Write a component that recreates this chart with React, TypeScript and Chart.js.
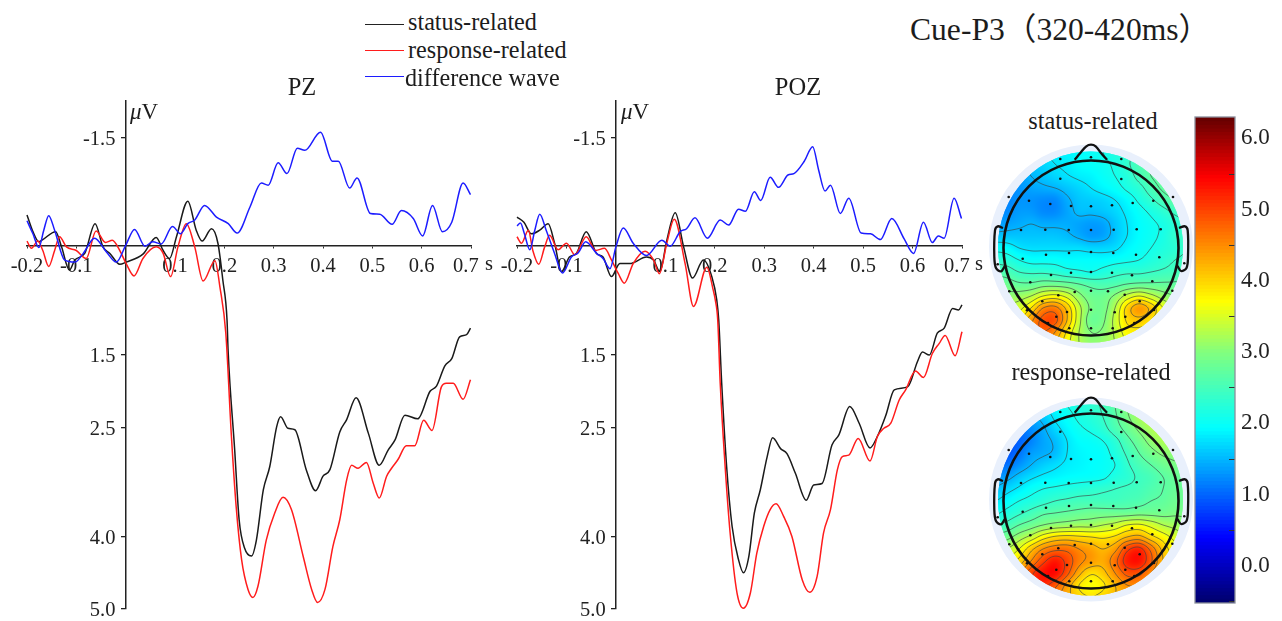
import React, { useEffect, useRef } from "react";
import { Chart, registerables } from "chart.js";
Chart.register(...registerables);

const SERIF = '"Liberation Serif", "Noto Sans CJK SC", serif';

const xTickValues = [-0.2, -0.1, 0.1, 0.2, 0.3, 0.4, 0.5, 0.6, 0.7];
const yTickValues = [-1.5, 1.5, 2.5, 4.0, 5.0];
const colorbarTicks = [0, 1, 2, 3, 4, 5, 6];

const pzDiffT = [-0.2,-0.188,-0.176,-0.166,-0.156,-0.144,-0.124,-0.103,-0.087,-0.063,-0.039,-0.019,0,0.018,0.039,0.055,0.072,0.095,0.111,0.126,0.14,0.16,0.184,0.208,0.226,0.252,0.275,0.289,0.309,0.327,0.348,0.363,0.395,0.419,0.431,0.454,0.469,0.496,0.515,0.54,0.559,0.583,0.602,0.622,0.642,0.661,0.684,0.699];
const pzDiffV = [-0.35,-0.17,0.02,-0.22,-0.42,-0.22,0.19,0.22,0.11,-0.11,0.08,0.22,-0.01,-0.23,0,-0.06,-0.03,-0.27,-0.17,-0.31,-0.36,-0.56,-0.4,-0.31,-0.18,-0.54,-0.87,-0.84,-1.15,-1,-1.35,-1.32,-1.57,-1.17,-1.17,-0.8,-0.94,-0.45,-0.44,-0.3,-0.49,-0.38,-0.14,-0.56,-0.2,-0.33,-0.87,-0.71];
const pzStatusT = [-0.2,-0.188,-0.176,-0.168,-0.142,-0.13,-0.114,-0.103,-0.083,-0.062,-0.046,-0.032,-0.012,0.001,0.035,0.062,0.076,0.089,0.103,0.126,0.143,0.155,0.174,0.187,0.197,0.2055,0.2076,0.221,0.23,0.241,0.255,0.265,0.279,0.292,0.306,0.314,0.329,0.343,0.366,0.385,0.4,0.414,0.434,0.448,0.467,0.492,0.514,0.532,0.546,0.566,0.592,0.617,0.63,0.647,0.661,0.677,0.691,0.699];
const pzStatusV = [-0.43,-0.2,-0.06,-0.09,-0.2,0.01,0.33,0.19,0.1,-0.31,0.01,0.1,0.25,0.22,0.11,-0.12,0.06,0.17,-0.13,-0.62,-0.22,-0.07,-0.24,-0.04,0.47,1.02,1.43,2.81,3.77,4.16,4.27,4.05,3.36,3.04,2.49,2.35,2.51,2.53,3.08,3.37,3.17,3.08,2.56,2.39,2.09,2.58,3.02,2.81,2.67,2.33,2.38,2,1.93,1.65,1.55,1.25,1.22,1.13];
const pzRespT = [-0.2,-0.191,-0.178,-0.168,-0.156,-0.144,-0.134,-0.12,-0.1,-0.08,-0.06,-0.041,-0.027,-0.012,0.001,0.017,0.035,0.062,0.076,0.091,0.106,0.123,0.14,0.157,0.181,0.191,0.203,0.214,0.224,0.235,0.248,0.258,0.268,0.285,0.302,0.319,0.336,0.36,0.377,0.389,0.404,0.42,0.434,0.448,0.458,0.471,0.488,0.502,0.514,0.529,0.539,0.552,0.569,0.586,0.604,0.621,0.64,0.65,0.664,0.684,0.699];
const pzRespV = [-0.07,0.03,-0.07,0.06,0.28,0.06,-0.13,0.01,0.06,0.17,-0.21,-0.05,-0.08,0.06,0.24,0.41,0.17,0.01,0.1,0.42,0.01,-0.31,0.01,0.48,0.2,0.56,1.2,2.58,3.59,4.32,4.73,4.84,4.69,4.05,3.68,3.46,3.63,4.28,4.73,4.91,4.73,4.14,3.77,3.22,3.02,3.06,2.98,3.27,3.47,3.17,3.06,2.94,2.75,2.75,2.4,2.54,1.94,1.89,1.89,2.11,1.84];

const pozDiffT = [-0.2,-0.193,-0.185,-0.174,-0.164,-0.154,-0.141,-0.124,-0.108,-0.09,-0.076,-0.061,-0.039,-0.026,-0.012,0,0.015,0.035,0.062,0.093,0.11,0.13,0.143,0.16,0.185,0.211,0.228,0.248,0.262,0.28,0.293,0.312,0.329,0.348,0.36,0.381,0.398,0.41,0.423,0.434,0.454,0.471,0.496,0.515,0.535,0.558,0.583,0.602,0.622,0.64,0.652,0.664,0.684,0.699];
const pozDiffV = [-0.28,-0.32,-0.17,0.05,-0.22,-0.44,-0.22,0.1,0.37,0.15,0.09,-0.06,0.1,0.17,0.31,0.01,-0.25,-0.04,0.13,-0.08,0,-0.2,-0.24,-0.39,-0.11,-0.36,-0.29,-0.51,-0.48,-0.75,-0.63,-0.95,-0.81,-0.98,-1,-1.17,-1.37,-1.05,-0.76,-0.84,-0.45,-0.66,-0.18,-0.17,-0.09,-0.38,-0.1,0.1,-0.33,-0.05,-0.14,-0.11,-0.66,-0.38];
const pozStatusT = [-0.2,-0.186,-0.171,-0.154,-0.137,-0.124,-0.11,-0.094,-0.08,-0.06,-0.039,-0.026,-0.009,0.008,0.028,0.062,0.076,0.089,0.103,0.12,0.137,0.155,0.177,0.194,0.204,0.208,0.214,0.224,0.235,0.248,0.258,0.269,0.28,0.292,0.306,0.317,0.333,0.346,0.363,0.385,0.4,0.417,0.437,0.451,0.473,0.492,0.514,0.529,0.546,0.563,0.59,0.61,0.62,0.634,0.65,0.664,0.681,0.693,0.7];
const pozStatusV = [-0.4,-0.33,-0.17,-0.22,-0.31,-0.04,0.35,0.15,0.1,-0.2,0.1,0.15,0.42,0.24,0.24,0.15,0.19,0.35,-0.08,-0.46,0.01,0.44,0.19,0.42,0.74,1.02,1.89,3.04,3.86,4.32,4.5,4.27,3.68,3.36,2.9,2.64,2.79,2.86,3.13,3.5,3.29,3.27,2.74,2.6,2.21,2.44,2.78,2.62,2.33,1.98,1.94,1.59,1.46,1.5,1.2,1.13,0.86,0.88,0.81];
const pozRespT = [-0.2,-0.191,-0.177,-0.168,-0.156,-0.144,-0.134,-0.117,-0.1,-0.083,-0.06,-0.041,-0.023,-0.009,0.005,0.017,0.035,0.059,0.076,0.088,0.103,0.118,0.14,0.157,0.184,0.197,0.201,0.206,0.211,0.221,0.231,0.245,0.258,0.272,0.285,0.299,0.312,0.324,0.339,0.356,0.377,0.392,0.407,0.42,0.434,0.448,0.458,0.471,0.49,0.514,0.529,0.542,0.556,0.573,0.586,0.606,0.622,0.64,0.654,0.666,0.686,0.7];
const pozRespV = [-0.13,-0.04,-0.22,0.06,0.25,0.01,-0.15,0.05,-0.04,0.12,-0.13,0.06,0.03,0.19,0.38,0.51,0.24,0.07,0.19,0.38,-0.04,-0.37,0.24,0.83,0.29,0.61,0.74,1.02,1.89,3.04,3.95,4.78,4.99,4.78,4.23,3.86,3.63,3.55,3.72,4,4.6,4.77,4.55,3.95,3.63,3.08,2.9,2.88,2.65,2.96,2.62,2.51,2.44,2.12,1.98,1.72,1.81,1.48,1.34,1.23,1.51,1.18];

const statusGrid = [
[1.5,1.5,1.6,1.7,1.8,1.85,1.9,1.95,2.0,2.1,2.2,2.3,2.5,2.7,2.8,2.9,2.9],
[1.4,1.4,1.5,1.6,1.7,1.8,1.85,1.95,2.0,2.05,2.15,2.35,2.55,2.7,2.8,2.9,2.9],
[1.25,1.25,1.35,1.5,1.6,1.7,1.78,1.85,1.9,2.0,2.1,2.25,2.5,2.7,2.8,2.85,2.9],
[1.2,1.2,1.3,1.4,1.45,1.5,1.6,1.7,1.8,1.9,2.0,2.15,2.3,2.55,2.75,2.85,2.85],
[1.2,1.2,1.3,1.3,1.25,1.25,1.45,1.6,1.65,1.7,1.8,1.95,2.15,2.35,2.55,2.7,2.7],
[1.25,1.25,1.35,1.35,1.25,1.25,1.4,1.55,1.55,1.6,1.7,1.85,2.0,2.15,2.3,2.45,2.5],
[1.35,1.4,1.45,1.5,1.45,1.45,1.45,1.4,1.35,1.4,1.6,1.8,1.95,2.05,2.15,2.3,2.4],
[1.6,1.6,1.6,1.6,1.6,1.6,1.55,1.45,1.35,1.4,1.6,1.8,1.95,2.05,2.15,2.35,2.4],
[2.0,1.95,1.8,1.75,1.75,1.75,1.75,1.75,1.7,1.7,1.75,1.9,2.0,2.1,2.2,2.3,2.4],
[2.3,2.25,2.1,2.0,2.0,2.0,1.95,1.95,1.95,1.95,2.0,2.05,2.1,2.2,2.3,2.4,2.45],
[2.6,2.55,2.4,2.35,2.35,2.3,2.2,2.15,2.1,2.2,2.3,2.35,2.35,2.4,2.45,2.5,2.55],
[2.9,2.85,2.75,2.75,2.85,2.85,2.8,2.7,2.6,2.55,2.6,2.7,2.75,2.75,2.75,2.75,2.8],
[3.1,3.1,3.15,3.3,3.6,3.7,3.5,3.1,2.85,2.85,3.05,3.4,3.6,3.4,3.15,3.0,3.0],
[3.3,3.4,3.5,3.9,4.5,4.6,4.1,3.4,2.95,2.9,3.3,4.0,4.4,4.1,3.6,3.3,3.2],
[3.5,3.6,3.8,4.4,4.9,4.9,4.2,3.4,2.85,2.95,3.4,3.95,4.1,3.9,3.6,3.4,3.3],
[3.6,3.7,4.0,4.5,4.8,4.5,3.85,3.3,3.0,3.05,3.35,3.75,3.8,3.7,3.5,3.4,3.3],
[3.6,3.7,4.0,4.4,4.5,4.2,3.7,3.3,3.1,3.15,3.3,3.6,3.7,3.6,3.5,3.4,3.3],
];
const responseGrid = [
[1.2,1.3,1.4,1.55,1.75,1.95,2.1,2.2,2.3,2.45,2.7,3.0,3.2,3.35,3.4,3.4,3.4],
[1.05,1.1,1.2,1.4,1.6,1.85,2.0,2.15,2.25,2.4,2.65,2.95,3.2,3.35,3.4,3.4,3.4],
[0.9,0.95,1.05,1.25,1.45,1.7,1.9,2.05,2.15,2.3,2.55,2.8,3.05,3.25,3.35,3.4,3.4],
[0.85,0.85,1.0,1.2,1.4,1.55,1.8,1.95,2.0,2.1,2.3,2.6,2.85,3.1,3.25,3.3,3.3],
[0.85,0.9,1.1,1.35,1.45,1.55,1.8,1.9,1.95,2.0,2.2,2.45,2.7,2.9,3.05,3.1,3.1],
[1.0,1.1,1.3,1.5,1.65,1.75,1.85,1.9,1.95,2.0,2.1,2.35,2.55,2.7,2.85,2.95,2.95],
[1.25,1.4,1.6,1.75,1.85,1.9,1.95,1.98,2.0,2.05,2.2,2.3,2.45,2.55,2.7,2.8,2.85],
[1.55,1.7,1.85,2.0,2.1,2.15,2.2,2.25,2.3,2.35,2.4,2.45,2.5,2.6,2.7,2.8,2.85],
[1.8,1.95,2.1,2.2,2.3,2.4,2.45,2.5,2.5,2.5,2.5,2.55,2.6,2.7,2.75,2.85,2.85],
[2.05,2.2,2.35,2.5,2.65,2.7,2.75,2.8,2.85,2.85,2.85,2.85,2.9,2.9,2.9,2.95,2.95],
[2.4,2.5,2.7,2.85,3.0,3.1,3.15,3.2,3.2,3.3,3.4,3.6,3.65,3.5,3.3,3.2,3.1],
[2.8,2.9,3.15,3.4,3.75,3.95,4.0,3.95,3.9,3.85,3.95,4.2,4.3,4.0,3.75,3.5,3.3],
[3.1,3.3,3.6,4.1,4.5,4.7,4.7,4.5,4.35,4.2,4.4,5.0,5.2,4.7,4.1,3.7,3.5],
[3.3,3.6,4.0,4.5,5.0,5.3,5.0,4.6,4.4,4.3,4.7,5.25,5.35,4.85,4.2,3.8,3.6],
[3.6,3.9,4.4,5.0,5.35,5.4,4.9,4.3,3.95,4.1,4.5,4.9,4.9,4.5,4.1,3.8,3.6],
[3.8,4.2,4.7,5.1,5.2,4.9,4.4,3.9,3.7,3.85,4.2,4.5,4.5,4.3,4.0,3.8,3.6],
[3.9,4.3,4.7,4.9,4.9,4.6,4.3,4.0,3.9,4.0,4.2,4.3,4.3,4.1,3.9,3.8,3.6],
];
const contourLevels = [1.5,1.8,2.1,2.4,2.7,3.0,3.3,3.6,3.9,4.2,4.5,4.8,5.1];

const electrodeX = [-30.7,0,30.3,-30.7,30.3,-82.3,-62,-40.7,-20,0,21,41.7,62.3,82,-70,-45.7,-22.3,0,22.7,45.7,69.7,-68.3,-45,-22,0,22.3,45,68.3,-93.3,93.3,-40,-20,0,21,41,61.3,-60.7,-81.7,-32.7,-16.3,0,17,33.7,81.3,-48.7,48.7,-64,-24,0,23.7,63,-34.7,34.3,-43,43.3,-21.7,0,21.7];
const electrodeY = [-89,-90.7,-89,-69.3,-69,-51,-47.3,-44,-42,-41.7,-42.7,-45,-47.3,-51,-18,-18.3,-18,-18,-18.3,-18.7,-18.7,10.7,6.7,5,4,5,6.7,9.3,16.3,15.3,27,24.7,24,24.7,27.3,33.3,34.3,43.3,47.3,44,42.7,43.3,46.7,42.7,53.3,53.3,62.3,64,61.7,64.3,62,68.7,68.7,75,75,80.3,80.3,80.3];
const noseX = [-16.3,-10.7,-4.7,0,4.7,10,16];
const noseY = [-88.3,-95,-101.7,-103.3,-101.7,-95,-88.3];
const leftEarX = [-88,-93.3,-96,-96.7,-95,-90,-86.3];
const leftEarY = [-20,-21.7,-17.7,8.3,20,23.3,18.3];
const rightEarX = [88,94,96.7,97,95.5,90,86.5];
const rightEarY = [-20,-21.7,-17.7,8.3,20,23,18];

const colorStops: [number, number[]][] = [[0,[0,0,105]],[0.136,[0,0,255]],[0.362,[0,255,255]],[0.516,[128,255,128]],[0.622,[255,255,0]],[0.877,[255,0,0]],[1,[100,0,0]]];
const COLOR_MIN = -0.52, COLOR_MAX = 6.3;

function colorOf(v: number) {
  const t = Math.max(0, Math.min(1, (v - COLOR_MIN) / (COLOR_MAX - COLOR_MIN)));
  for (let i = 1; i < colorStops.length; i++) {
    const [p1, c1] = colorStops[i - 1], [p2, c2] = colorStops[i];
    if (t <= p2) {
      const f = (t - p1) / (p2 - p1);
      return `rgb(${c1.map((c, k) => Math.round(c + (c2[k] - c) * f)).join(",")})`;
    }
  }
  return "rgb(100,0,0)";
}

function cr(p0: number, p1: number, p2: number, p3: number, t: number) {
  return 0.5 * (2 * p1 + (p2 - p0) * t + (2 * p0 - 5 * p1 + 4 * p2 - p3) * t * t + (3 * p1 - p0 - 3 * p2 + p3) * t * t * t);
}
function sample(grid: number[][], dx: number, dy: number) {
  const n = grid.length;
  const u = Math.max(0, Math.min(n - 1.001, (dx + 96) / 12));
  const v = Math.max(0, Math.min(n - 1.001, (dy + 96) / 12));
  const i = Math.floor(v), j = Math.floor(u), fu = u - j, fv = v - i;
  const g = (a: number, b: number) => grid[Math.max(0, Math.min(n - 1, a))][Math.max(0, Math.min(n - 1, b))];
  const row = (a: number) => cr(g(a, j - 1), g(a, j), g(a, j + 1), g(a, j + 2), fu);
  return cr(row(i - 1), row(i), row(i + 1), row(i + 2), fv);
}

function topoPlugin(grid: number[][], ringIndex: number) {
  return {
    id: "topoField",
    afterDatasetDraw(chart: any, args: any) {
      if (args.index !== ringIndex) return;
      const { ctx, scales: { x, y } } = chart;
      const px = (d: number) => x.getPixelForValue(d), py = (d: number) => y.getPixelForValue(d);
      ctx.save();
      ctx.beginPath();
      ctx.ellipse(px(-0.5), py(-1), px(92.5) - px(0), py(95.5) - py(0), 0, 0, Math.PI * 2);
      ctx.clip();
      for (let a = -96; a < 96; a += 1) {
        for (let b = -98; b < 98; b += 1) {
          ctx.fillStyle = colorOf(sample(grid, a + 0.5, b + 0.5));
          ctx.fillRect(px(a), py(b), px(a + 1) - px(a) + 0.5, py(b + 1) - py(b) + 0.5);
        }
      }
      const S = 2;
      ctx.strokeStyle = "rgba(60,70,70,0.72)";
      ctx.lineWidth = 0.9;
      ctx.beginPath();
      for (const level of contourLevels) {
        for (let a = -96; a < 96; a += S) {
          for (let b = -98; b < 98; b += S) {
            const c = [sample(grid, a, b), sample(grid, a + S, b), sample(grid, a + S, b + S), sample(grid, a, b + S)];
            const corners = [[a, b], [a + S, b], [a + S, b + S], [a, b + S]];
            const pts: number[][] = [];
            for (let e = 0; e < 4; e++) {
              const v1 = c[e], v2 = c[(e + 1) % 4];
              if ((v1 < level) !== (v2 < level)) {
                const f = (level - v1) / (v2 - v1);
                const [x1, y1] = corners[e], [x2, y2] = corners[(e + 1) % 4];
                pts.push([x1 + (x2 - x1) * f, y1 + (y2 - y1) * f]);
              }
            }
            for (let k = 0; k + 1 < pts.length; k += 2) {
              ctx.moveTo(px(pts[k][0]), py(pts[k][1]));
              ctx.lineTo(px(pts[k + 1][0]), py(pts[k + 1][1]));
            }
          }
        }
      }
      ctx.stroke();
      ctx.restore();
    },
  };
}

const zip = (xs: number[], ys: number[]) => xs.map((x, i) => ({ x, y: ys[i] }));

function erpConfig(status: any[], resp: any[], diff: any[], padLeft: number, padRight: number): any {
  const line = (label: string, data: any[], color: string) => ({
    label, data, borderColor: color, borderWidth: 1.5, pointRadius: 0, cubicInterpolationMode: "monotone", fill: false, clip: false,
  });
  const clearFit = (s: any) => { s.paddingLeft = s.paddingRight = s.paddingTop = s.paddingBottom = 0; if (s.axis === "x") s.height = 0; else s.width = 0; };
  return {
    type: "line",
    data: { datasets: [line("difference wave", diff, "#1c1cff"), line("response-related", resp, "#ff1c1c"), line("status-related", status, "#1a1a1a")] },
    options: {
      animation: false, responsive: false, parsing: true,
      layout: { padding: { left: padLeft, right: padRight, top: 11, bottom: 12 } },
      plugins: { legend: { display: false }, tooltip: { enabled: false }, title: { display: false } },
      scales: {
        x: {
          type: "linear", min: -0.2, max: 0.7, position: { y: 0 },
          grid: { drawOnChartArea: false, drawTicks: true, tickLength: 2, color: "#333", lineWidth: 1 },
          border: { color: "#222", width: 1.5 },
          ticks: { autoSkip: false, maxRotation: 0, padding: 6, color: "#222", font: { family: SERIF, size: 20.5 }, callback: (v: number) => (v === 0.7 ? "0.7  " : v.toFixed(1)) },
          afterBuildTicks: (a: any) => { a.ticks = xTickValues.map((value) => ({ value })); },
          afterFit: clearFit,
        },
        y: {
          type: "linear", min: -2, max: 5, reverse: true, position: { x: 0 },
          grid: { drawOnChartArea: false, drawTicks: true, tickLength: 4, color: "#222", lineWidth: 1.3 },
          border: { color: "#222", width: 1.5 },
          ticks: { autoSkip: false, padding: 0, labelOffset: 2, color: "#222", font: { family: SERIF, size: 20.5 }, callback: (v: number) => v.toFixed(1) + "  " },
          afterBuildTicks: (a: any) => { a.ticks = yTickValues.map((value) => ({ value })); },
          afterFit: clearFit,
        },
      },
    },
  };
}

function topoConfig(grid: number[][]): any {
  const outline = (xs: number[], ys: number[]) => ({
    data: zip(xs, ys), showLine: true, tension: 0.35, borderColor: "#111", borderWidth: 2.3, pointRadius: 0, fill: false, clip: false, order: 2,
  });
  const datasets = [
    { data: zip(electrodeX, electrodeY), pointRadius: 1.3, pointBackgroundColor: "#111", pointBorderWidth: 0, order: 0, clip: false },
    { data: [{ x: 0, y: 0 }], pointRadius: 87.5, pointBackgroundColor: "transparent", pointBorderColor: "#111", pointBorderWidth: 2.6, order: 1, clip: false },
    outline(noseX, noseY),
    outline(leftEarX, leftEarY),
    outline(rightEarX, rightEarY),
    { data: [{ x: 0, y: -1.5 }], pointRadius: 102, pointBackgroundColor: "#e9f0fc", pointBorderWidth: 0, order: 5, clip: false },
  ];
  return {
    type: "scatter",
    data: { datasets },
    options: {
      animation: false, responsive: false,
      layout: { autoPadding: false, padding: 0 },
      plugins: { legend: { display: false }, tooltip: { enabled: false } },
      scales: {
        x: { type: "linear", min: -110, max: 110, display: false },
        y: { type: "linear", min: -110, max: 110, reverse: true, display: false },
      },
    },
    plugins: [topoPlugin(grid, 5)],
  };
}

function colorbarConfig(): any {
  const levels: number[] = [];
  for (let v = COLOR_MIN; v <= COLOR_MAX; v += 0.05) levels.push(Number(v.toFixed(2)));
  return {
    type: "bar",
    data: { datasets: [{ data: levels.map((y) => ({ x: 1, y })), backgroundColor: levels.map(colorOf), barThickness: 5, borderWidth: 0 }] },
    options: {
      animation: false, responsive: false, indexAxis: "y",
      layout: { padding: { left: 5, top: 5, bottom: 5, right: 0 } },
      plugins: { legend: { display: false }, tooltip: { enabled: false } },
      scales: {
        x: { type: "linear", min: 0, max: 1, display: false },
        y: {
          type: "linear", position: "right", min: COLOR_MIN, max: COLOR_MAX, offset: false,
          grid: { drawOnChartArea: false, drawTicks: true, tickLength: -6, color: "#333", lineWidth: 1, z: 2 },
          border: { display: false },
          ticks: { autoSkip: false, padding: 12, color: "#222", font: { family: SERIF, size: 23 }, callback: (v: number) => v.toFixed(1) },
          afterBuildTicks: (a: any) => { a.ticks = colorbarTicks.map((value) => ({ value })); },
          afterFit: (s: any) => { s.paddingTop = s.paddingBottom = 0; s.width = 47; },
        },
      },
    },
    plugins: [{
      id: "barFrame",
      afterDraw(chart: any) {
        const { ctx, chartArea: c } = chart;
        ctx.save();
        ctx.strokeStyle = "#8b8f9c";
        ctx.lineWidth = 1.3;
        ctx.strokeRect(c.left, c.top, c.right - c.left, c.bottom - c.top);
        ctx.restore();
      },
    }],
  };
}

function ChartCanvas({ config, left, top, width, height }: any) {
  const ref = useRef<HTMLCanvasElement>(null);
  useEffect(() => {
    const chart = new Chart(ref.current as HTMLCanvasElement, config());
    return () => chart.destroy();
  }, []);
  return <canvas ref={ref} width={width} height={height} style={{ position: "absolute", left, top, width, height }} />;
}

function Label({ x, y, size, children, center }: any) {
  return (
    <span style={{ position: "absolute", left: x, top: y, fontFamily: SERIF, fontSize: size, lineHeight: 1, color: "#1c1c1c", whiteSpace: "pre", transform: center ? "translate(-50%,-50%)" : "translateY(-50%)" }}>
      {children}
    </span>
  );
}
function LegendLine({ y, color }: any) {
  return <div style={{ position: "absolute", left: 365, width: 39, top: y, height: 1.5, background: color }} />;
}

export default function App() {
  return (
    <div style={{ position: "absolute", left: 0, top: 0, width: 1282, height: 621, overflow: "hidden", background: "#fff" }}>
      <ChartCanvas config={() => erpConfig(zip(pzStatusT, pzStatusV), zip(pzRespT, pzRespV), zip(pzDiffT, pzDiffV), 27, 19)} left={0} top={90} width={490} height={531} />
      <ChartCanvas config={() => erpConfig(zip(pozStatusT, pozStatusV), zip(pozRespT, pozRespV), zip(pozDiffT, pozDiffV), 27, 18)} left={490} top={90} width={490} height={531} />
      <ChartCanvas config={() => topoConfig(statusGrid)} left={981} top={138} width={220} height={220} />
      <ChartCanvas config={() => topoConfig(responseGrid)} left={981} top={391} width={220} height={220} />
      <ChartCanvas config={colorbarConfig} left={1190} top={112} width={92} height={496} />

      <LegendLine y={23.5} color="#222" />
      <LegendLine y={49.5} color="#ff1c1c" />
      <LegendLine y={75.5} color="#1c1cff" />
      <Label x={408} y={22} size={24.2}>status-related</Label>
      <Label x={408} y={50} size={24.2}>response-related</Label>
      <Label x={405} y={78} size={24.2}>difference wave</Label>
      <Label x={910} y={30} size={31.6}>Cue-P3（320-420ms）</Label>
      <Label x={302} y={87} size={24.5} center>PZ</Label>
      <Label x={798} y={87} size={24.5} center>POZ</Label>
      <Label x={130} y={111} size={23}><i>μ</i>V</Label>
      <Label x={621} y={111} size={23}><i>μ</i>V</Label>
      <Label x={485} y={263} size={20.5}>s</Label>
      <Label x={975} y={263} size={20.5}>s</Label>
      <Label x={1093} y={121} size={24.3} center>status-related</Label>
      <Label x={1091} y={372} size={24.3} center>response-related</Label>
    </div>
  );
}
